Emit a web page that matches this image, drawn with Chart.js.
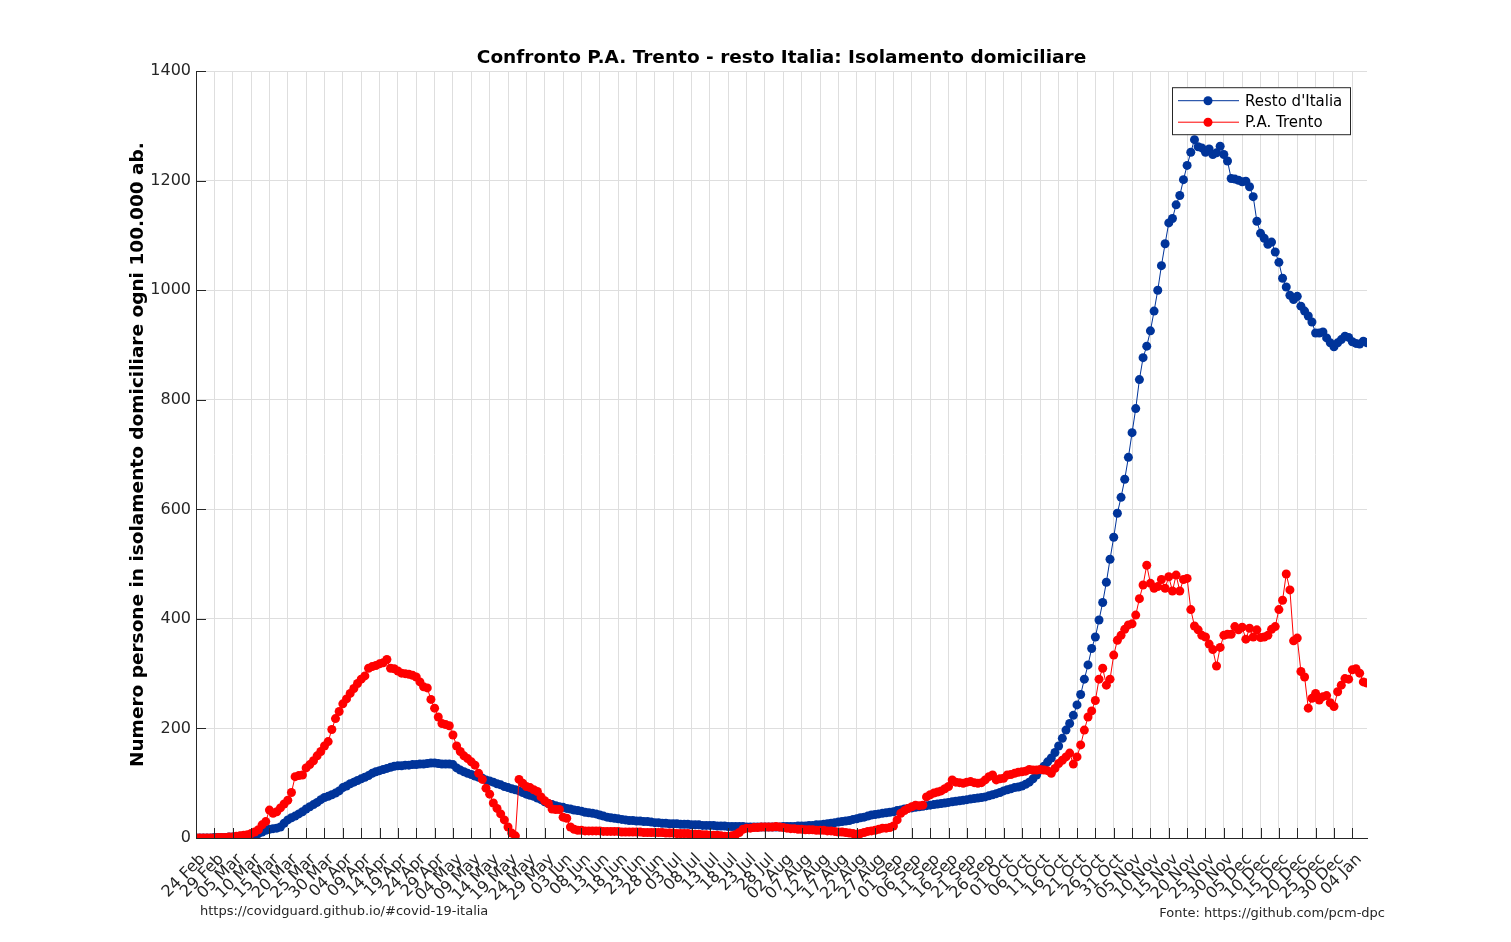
<!DOCTYPE html>
<html>
<head>
<meta charset="utf-8">
<title>Isolamento domiciliare</title>
<script src="https://cdn.jsdelivr.net/npm/chart.js@4.4.1/dist/chart.umd.min.js"></script>
<style>
  html, body { margin: 0; padding: 0; background: #fff; }
  #wrap { position: relative; width: 1511px; height: 942px; }
  #chart { position: absolute; left: 0; top: 0; }
  .note { position: absolute; font: 13px "DejaVu Sans", sans-serif; color: #262626; white-space: nowrap; }
</style>
</head>
<body>
<div id="wrap">
  <canvas id="chart" width="1511" height="942"></canvas>
  <div class="note" style="left:200px; top:903px;">https://covidguard.github.io/#covid-19-italia</div>
  <div class="note" style="right:126px; top:905px;">Fonte: https://github.com/pcm-dpc</div>
</div>
<script>
// one value per day, from 24 Feb 2020
const monthNames = ['Jan', 'Feb', 'Mar', 'Apr', 'May', 'Jun', 'Jul', 'Aug', 'Sep', 'Oct', 'Nov', 'Dec'];
const firstDay = [2020, 1, 24];
const tickEvery = 5;

const restoItalia = [
  0, 0, 0, 0, 0, 1, 1, 1, 1, 2,
  2, 2, 3, 3, 4, 5, 6, 8, 11, 14,
  16, 17, 18, 20, 27, 33, 37, 40, 44, 48,
  53, 57, 61, 65, 70, 74, 76, 79, 82, 86,
  92, 95, 99, 102, 105, 108, 111, 114, 118, 121,
  123, 125, 127, 129, 131, 132, 132, 133, 133, 134,
  134, 135, 135, 136, 137, 137, 136, 135, 135, 135,
  134, 128, 124, 121, 118, 116, 113, 111, 109, 106,
  104, 102, 99, 97, 94, 92, 90, 88, 86, 83,
  80, 78, 76, 73, 70, 66, 63, 61, 59, 57,
  56, 54, 53, 51, 50, 49, 47, 46, 45, 44,
  42, 40, 38, 37, 36, 35, 34, 33, 32, 32,
  31, 31, 30, 30, 29, 28, 28, 27, 27, 26,
  26, 26, 25, 25, 25, 24, 24, 24, 23, 23,
  23, 23, 22, 22, 22, 21, 21, 21, 21, 21,
  20, 20, 20, 20, 20, 20, 20, 20, 20, 20,
  21, 21, 21, 21, 22, 22, 22, 23, 23, 24,
  24, 25, 26, 27, 28, 29, 30, 31, 32, 34,
  35, 37, 38, 40, 42, 43, 44, 45, 46, 47,
  48, 50, 51, 53, 54, 55, 56, 57, 58, 59,
  60, 61, 62, 63, 64, 65, 66, 67, 68, 69,
  70, 71, 72, 73, 74, 75, 77, 79, 81, 83,
  86, 88, 90, 92, 93, 95, 98, 102, 108, 115,
  124, 131, 139, 146, 156, 168, 182, 197, 209, 224,
  243, 262, 290, 316, 346, 367, 398, 430, 467, 509,
  549, 593, 622, 655, 695, 740, 784, 837, 877, 898,
  926, 962, 1000, 1045, 1085, 1123, 1131, 1156, 1173, 1202,
  1228, 1252, 1275, 1262, 1260, 1252, 1258, 1248, 1251, 1263,
  1248, 1236, 1204, 1203, 1201, 1198, 1199, 1189, 1171, 1126,
  1104, 1095, 1084, 1088, 1070, 1051, 1022, 1006, 991, 983,
  989, 971, 962, 953, 942, 922, 922, 924, 913, 904,
  897, 904, 910, 916, 914, 906, 903, 902, 907, 904
];

const trento = [
  0, 0, 0, 0, 0, 0, 1, 1, 1, 2,
  2, 3, 4, 5, 6, 8, 11, 15, 24, 30,
  51, 45, 48, 55, 62, 69, 83, 112, 114, 115,
  128, 134, 141, 150, 158, 168, 176, 198, 218, 231,
  245, 254, 264, 273, 282, 290, 296, 310, 313, 315,
  318, 320, 326, 310, 309, 305, 301, 300, 299, 297,
  294, 285, 276, 274, 253, 237, 221, 209, 207, 205,
  188, 168, 158, 150, 145, 139, 133, 118, 107, 91,
  80, 64, 54, 44, 33, 20, 9, 4, 107, 100,
  94, 92, 88, 85, 75, 68, 63, 53, 52, 52,
  38, 36, 20, 16, 14, 14, 13, 13, 13, 13,
  13, 12, 12, 12, 12, 12, 11, 11, 11, 11,
  11, 11, 10, 10, 10, 10, 10, 10, 9, 9,
  9, 8, 8, 8, 8, 7, 7, 7, 6, 6,
  5, 5, 5, 4, 3, 3, 4, 6, 10, 16,
  18, 18, 19, 19, 20, 20, 20, 20, 21, 20,
  19, 18, 17, 17, 16, 16, 15, 15, 15, 14,
  14, 14, 13, 13, 12, 11, 11, 10, 9, 8,
  7, 8, 10, 12, 13, 14, 16, 18, 18, 19,
  22, 33, 45, 50, 54, 57, 60, 59, 60, 75,
  79, 82, 84, 86, 90, 94, 106, 102, 101, 100,
  102, 103, 101, 100, 101, 106, 112, 115, 106, 108,
  109, 115, 116, 118, 120, 121, 122, 125, 124, 124,
  125, 124, 123, 118, 127, 136, 142, 148, 155, 135,
  148, 170, 197, 221, 232, 251, 290, 310, 279, 290,
  334, 361, 370, 381, 389, 391, 407, 437, 462, 498,
  465, 456, 459, 472, 456, 477, 451, 480, 451, 472,
  474, 417, 387, 380, 370, 367, 354, 344, 314, 348,
  370, 372, 372, 386, 380, 385, 363, 383, 367, 380,
  366, 367, 370, 381, 386, 417, 434, 482, 453, 360,
  365, 304, 294, 237, 255, 264, 252, 258, 260, 247,
  240, 267, 279, 291, 290, 307, 309, 301, 285, 283
];

const yTicks = [0, 200, 400, 600, 800, 1000, 1200, 1400];

const days = restoItalia.map((_, i) => {
  const d = new Date(firstDay[0], firstDay[1], firstDay[2] + i);
  return String(d.getDate()).padStart(2, '0') + ' ' + monthNames[d.getMonth()];
});
const dayIndex = days.map((_, i) => i);

const FONT = '"DejaVu Sans", sans-serif';
const AXIS = '#262626';
const BLUE = '#00349a';
const RED = '#ff0000';

// matlab style ticks, pointing into the plot
const inwardTicks = {
  id: 'inwardTicks',
  afterDraw(chart) {
    const c = chart.ctx;
    const area = chart.chartArea;
    const len = 10;
    c.save();
    c.strokeStyle = AXIS;
    c.lineWidth = 1;
    c.beginPath();
    chart.scales.x.ticks.forEach(t => {
      const px = Math.round(chart.scales.x.getPixelForValue(t.value)) + 0.5;
      c.moveTo(px, area.bottom);
      c.lineTo(px, area.bottom - len);
    });
    chart.scales.y.ticks.forEach(t => {
      const py = Math.round(chart.scales.y.getPixelForValue(t.value)) + 0.5;
      c.moveTo(area.left, py);
      c.lineTo(area.left + len, py);
    });
    c.stroke();
    c.restore();
  }
};

const legendBox = {
  id: 'legendBox',
  afterDraw(chart) {
    const c = chart.ctx;
    const area = chart.chartArea;
    const bx = area.right - 195, by = area.top + 16, bw = 178, bh = 47;
    c.save();
    c.fillStyle = '#fff';
    c.fillRect(bx, by, bw, bh);
    c.strokeStyle = AXIS;
    c.lineWidth = 1;
    c.strokeRect(bx + 0.5, by + 0.5, bw, bh);
    c.font = '15px ' + FONT;
    c.textBaseline = 'middle';
    chart.data.datasets.forEach((ds, i) => {
      const cy = by + 13.5 + i * 21.5;
      c.strokeStyle = ds.borderColor;
      c.beginPath();
      c.moveTo(bx + 6, cy);
      c.lineTo(bx + 67, cy);
      c.stroke();
      c.fillStyle = ds.backgroundColor;
      c.beginPath();
      c.arc(bx + 36, cy, 4.5, 0, Math.PI * 2);
      c.fill();
      c.fillStyle = '#000';
      c.fillText(ds.label, bx + 73, cy + 1);
    });
    c.restore();
  }
};

const ctx = document.getElementById('chart').getContext('2d');
new Chart(ctx, {
  type: 'line',
  data: {
    labels: dayIndex,
    datasets: [
      {
        label: "Resto d'Italia",
        data: restoItalia,
        borderColor: BLUE,
        backgroundColor: BLUE,
        borderWidth: 1,
        pointRadius: 4.5,
        pointHoverRadius: 4.5,
        pointBorderWidth: 0,
        order: 1
      },
      {
        label: 'P.A. Trento',
        data: trento,
        borderColor: RED,
        backgroundColor: RED,
        borderWidth: 1,
        pointRadius: 4.5,
        pointHoverRadius: 4.5,
        pointBorderWidth: 0,
        order: 0
      }
    ]
  },
  options: {
    responsive: false,
    animation: false,
    layout: { padding: { left: 123, right: 144, top: 0, bottom: 0 } },
    plugins: {
      legend: { display: false },
      tooltip: { enabled: false },
      title: {
        display: true,
        fullSize: false,
        text: 'Confronto P.A. Trento - resto Italia: Isolamento domiciliare',
        color: '#000',
        font: { family: FONT, size: 18.5, weight: 'bold' },
        padding: { top: 47, bottom: 2 }
      }
    },
    scales: {
      x: {
        type: 'linear',
        min: 0,
        max: days.length - 1,
        grid: { drawTicks: false, color: '#dedede' },
        border: { color: AXIS },
        ticks: {
          stepSize: tickEvery,
          includeBounds: false,
          autoSkip: false,
          maxRotation: 45,
          minRotation: 45,
          padding: 12,
          labelOffset: 7,
          color: AXIS,
          font: { family: FONT, size: 16 },
          callback: v => days[v]
        },
        afterFit: s => { s.height = 104; s.paddingLeft = 0; s.paddingRight = 0; }
      },
      y: {
        min: 0,
        max: 1400,
        afterBuildTicks: s => { s.ticks = yTicks.map(v => ({ value: v })); },
        grid: { drawTicks: false, color: '#dedede' },
        border: { color: AXIS },
        ticks: {
          padding: 5,
          color: AXIS,
          font: { family: FONT, size: 16 },
          callback: v => String(v)
        },
        title: {
          display: true,
          text: 'Numero persone in isolamento domiciliare ogni 100.000 ab.',
          color: '#000',
          font: { family: FONT, size: 18.5, weight: 'bold' }
        },
        afterFit: s => { s.width = 73; }
      }
    }
  },
  plugins: [inwardTicks, legendBox]
});
</script>
</body>
</html>
